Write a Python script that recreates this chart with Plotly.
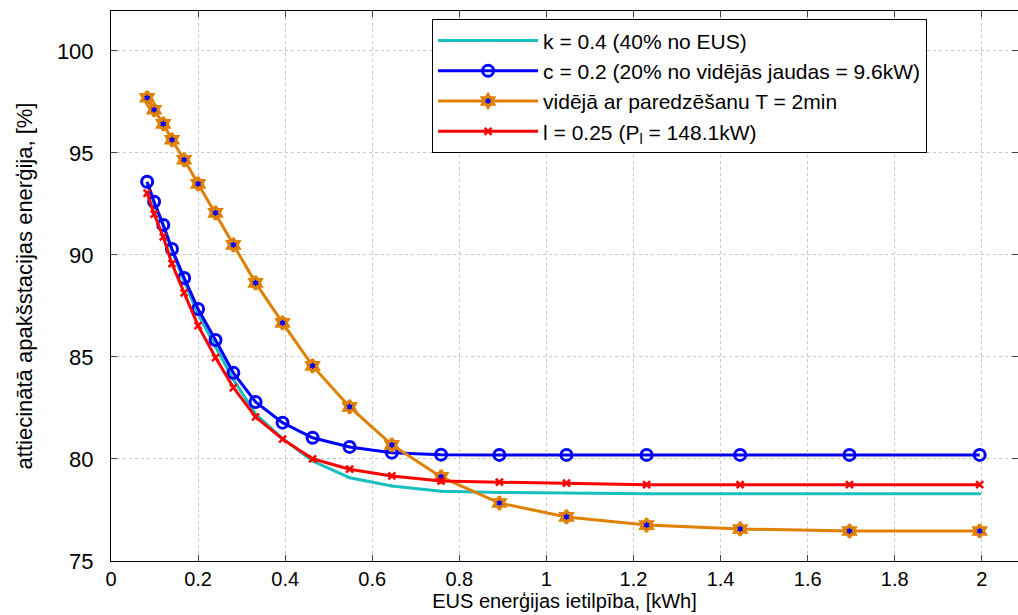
import plotly.graph_objects as go

x_vals = [0.083, 0.099, 0.120, 0.140, 0.168, 0.200, 0.240, 0.281, 0.332, 0.394,
          0.463, 0.548, 0.645, 0.758, 0.892, 1.046, 1.230, 1.445, 1.696, 1.995]

k_vals = [93.5, 92.5, 91.4, 90.2, 88.7, 87.1, 85.5, 83.9, 82.2, 81.0,
          79.9, 79.08, 78.68, 78.42, 78.36, 78.33, 78.3, 78.3, 78.3, 78.3]

c_vals = [93.58, 92.6, 91.47, 90.29, 88.87, 87.35, 85.83, 84.22, 82.79, 81.78,
          81.04, 80.59, 80.31, 80.21, 80.2, 80.2, 80.2, 80.2, 80.2, 80.2]

avg_vals = [97.70, 97.11, 96.42, 95.64, 94.66, 93.48, 92.06, 90.49, 88.63, 86.67,
            84.56, 82.55, 80.69, 79.12, 77.84, 77.16, 76.76, 76.57, 76.47, 76.47]

l_vals = [93.02, 92.0, 90.88, 89.57, 88.14, 86.53, 84.97, 83.5, 82.06, 80.97,
          80.01, 79.5, 79.17, 78.92, 78.86, 78.81, 78.74, 78.74, 78.74, 78.74]

names = ["k = 0.4 (40% no EUS)",
         "c = 0.2 (20% no vidējās jaudas = 9.6kW)",
         "vidējā ar paredzēšanu T = 2min",
         "l = 0.25 (P<sub>l</sub> = 148.1kW)"]

x_ticks = [0, 0.2, 0.4, 0.6, 0.8, 1, 1.2, 1.4, 1.6, 1.8, 2]
x_tick_text = ["0", "0.2", "0.4", "0.6", "0.8", "1", "1.2", "1.4", "1.6", "1.8", "2"]
y_ticks = [75, 80, 85, 90, 95, 100]
y_range = [75, 101.95]

fig = go.Figure()
fig.add_trace(go.Scatter(x=x_vals, y=k_vals, name=names[0], mode="lines+markers",
                         line=dict(color="#17BFBF", width=3),
                         marker=dict(size=3, color="#17BFBF")))
fig.add_trace(go.Scatter(x=x_vals, y=c_vals, name=names[1], mode="lines+markers",
                         line=dict(color="#0000FF", width=3),
                         marker=dict(symbol="circle-open", size=11, color="#0000FF",
                                     line=dict(width=3, color="#0000FF"))))
fig.add_trace(go.Scatter(x=x_vals, y=avg_vals, name=names[2], mode="lines+markers",
                         line=dict(color="#DF8000", width=3),
                         marker=dict(symbol="hexagram", size=10, color="#0000FF",
                                     line=dict(width=3, color="#DF8000"))))
fig.add_trace(go.Scatter(x=x_vals, y=l_vals, name=names[3], mode="lines+markers",
                         line=dict(color="#FF0000", width=3),
                         marker=dict(symbol="x-thin", size=7, color="#FF0000",
                                     line=dict(width=2.5, color="#FF0000"))))
# empty helper trace so the overlay axis (inside tick marks on y) is drawn
fig.add_trace(go.Scatter(x=[None], y=[None], yaxis="y2", showlegend=False,
                         hoverinfo="skip", mode="lines"))

fig.update_layout(
    xaxis=dict(range=[0, 2.083], tickvals=x_ticks, ticktext=x_tick_text,
               showline=True, linecolor="black", linewidth=1, mirror="ticks",
               ticks="inside", ticklen=6, tickcolor="#444444",
               showgrid=True, gridcolor="#C8C8C8", griddash="dot", gridwidth=1,
               zeroline=False, tickfont=dict(size=20, color="black"),
               title=dict(text="EUS enerģijas ietilpība, [kWh]",
                          font=dict(size=20, color="black"), standoff=0)),
    yaxis=dict(range=y_range, tickvals=y_ticks,
               showline=True, linecolor="black", linewidth=1, mirror=True,
               ticks="outside", ticklen=12, tickcolor="rgba(0,0,0,0)",
               showgrid=True, gridcolor="#C8C8C8", griddash="dot", gridwidth=1,
               zeroline=False, tickfont=dict(size=22, color="black"),
               title=dict(text="attiecinātā apakšstacijas enerģija, [%]",
                          font=dict(size=22, color="black"), standoff=18)),
    yaxis2=dict(range=y_range, tickvals=y_ticks, overlaying="y", side="left",
                showticklabels=False, showgrid=False, zeroline=False,
                showline=False, ticks="inside", ticklen=6, tickcolor="#444444",
                mirror="ticks"),
)

fig.update_layout(
    width=1018, height=615,
    margin=dict(l=111, r=0, t=11, b=54),
    paper_bgcolor="white", plot_bgcolor="white",
    font=dict(family="Liberation Sans, Arial, sans-serif", size=22, color="black"),
    legend=dict(x=0.354, y=0.985, xanchor="left", yanchor="top",
                bgcolor="white", bordercolor="black", borderwidth=1,
                font=dict(size=21, color="black"), itemwidth=100,
                tracegroupgap=0),
    showlegend=True,
)

fig.write_html("out.html")
